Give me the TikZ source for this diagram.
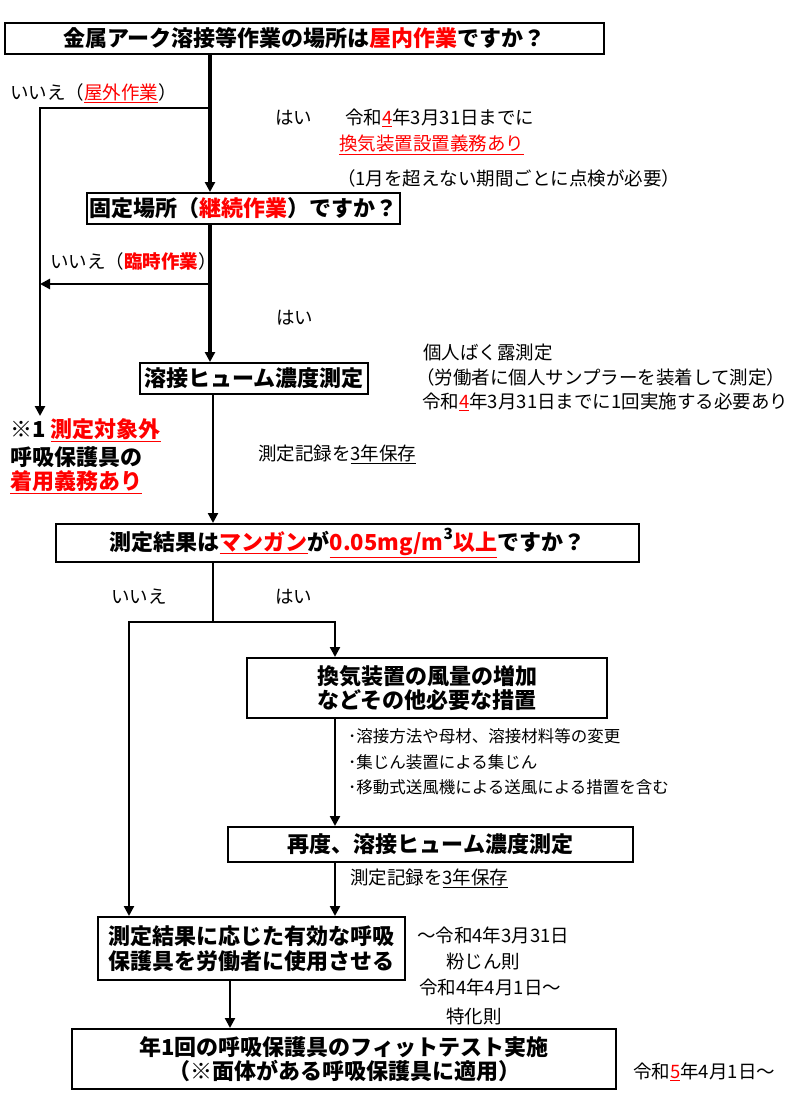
\documentclass[tikz,border=0pt]{standalone}
\usepackage{fontspec}
\setmainfont{Noto Sans CJK JP}
\usetikzlibrary{arrows.meta}
\newcommand\rd[1]{\textcolor{red}{#1}}
\newcommand\ru[1]{\textcolor{red}{\underline{#1}}}
\tikzset{
  box/.style={draw, line width=2pt, inner sep=0pt, align=center,
    font=\bfseries\fontsize{22}{24.5}\selectfont},
  lbl/.style={anchor=west, inner sep=0pt, font=\fontsize{18.5}{22}\selectfont},
  sml/.style={anchor=west, inner sep=0pt, font=\fontsize{16.5}{20}\selectfont},
  notetext/.style={anchor=west, inner sep=0pt, font=\bfseries\fontsize{22}{26}\selectfont},
  thk/.style={line width=3.3pt},
  mid/.style={line width=2.7pt},
  thn/.style={line width=2.3pt},
  tip/.style={-{Triangle[length=10pt,width=10pt]}},
}
\begin{document}
\begin{tikzpicture}[x=1pt,y=-1pt]
\useasboundingbox[fill=white] (0,0) rectangle (805,1111);
% boxes
\node[box, minimum width=599pt, minimum height=31pt] (b1) at (304.5,38.5)
  {金属アーク溶接等作業の場所は\rd{屋内作業}ですか？};
\node[box, minimum width=313pt, minimum height=31pt] (b2) at (243.5,208.5)
  {固定場所（\rd{継続作業}）ですか？};
\node[box, minimum width=228pt, minimum height=31pt] (b3) at (254,378.5)
  {溶接ヒューム濃度測定};
\node[box, minimum width=583pt, minimum height=38pt] (b4) at (347.5,543)
  {測定結果は\ru{マンガン}が\ru{0.05mg/m\raisebox{3pt}{\textcolor{black}{\textsuperscript{3}}}以上}ですか？};
\node[box, minimum width=360pt, minimum height=60pt] (b5) at (427,688)
  {換気装置の風量の増加\\などその他必要な措置};
\node[box, minimum width=405pt, minimum height=35pt] (b5r) at (430.5,844.5)
  {再度、溶接ヒューム濃度測定};
\node[box, minimum width=307pt, minimum height=63pt] (b6) at (251.5,948.5)
  {測定結果に応じた有効な呼吸\\保護具を労働者に使用させる};
\node[box, minimum width=544pt, minimum height=60pt] (b7) at (344,1059)
  {年1回の呼吸保護具のフィットテスト実施\\（※面体がある呼吸保護具に適用）};
% labels
\node[lbl] (t1) at (10,93) {いいえ（\ru{屋外作業}）};
\node[lbl] (t2) at (275,118) {はい};
\node[lbl] (t3) at (345,118) {令和\ru{4}年3月31日までに};
\node[lbl] (t4) at (339,145) {\ru{換気装置設置義務あり}};
\node[lbl] (t5) at (337,178) {（1月を超えない期間ごとに点検が必要）};
\node[lbl] (t6) at (50,261) {いいえ（\textcolor{red}{\bfseries 臨時作業}）};
\node[lbl] (t7) at (276,318) {はい};
\node[lbl] (t8) at (423,353) {個人ばく露測定};
\node[lbl] (t9) at (416,377) {（労働者に個人サンプラーを装着して測定）};
\node[lbl] (t10) at (422,402) {令和\ru{4}年3月31日までに1回実施する必要あり};
\node[notetext] (n1) at (10,430) {※1 \ru{測定対象外}};
\node[notetext] (n2) at (10,457) {呼吸保護具の};
\node[notetext] (n3) at (10,482) {\ru{着用義務あり}};
\node[lbl] (t11) at (258,454) {測定記録を\underline{3年保存}};
\node[lbl] (t12) at (111,597) {いいえ};
\node[lbl] (t13) at (275,597) {はい};
\node[sml] (s1) at (348,736) {･溶接方法や母材、溶接材料等の変更};
\node[sml] (s2) at (348,762) {･集じん装置による集じん};
\node[sml] (s3) at (348,787) {･移動式送風機による送風による措置を含む};
\node[lbl] (t14) at (350,878) {測定記録を\underline{3年保存}};
\node[lbl] (t15) at (417,935) {～令和4年3月31日};
\node[lbl] (t16) at (446,961) {粉じん則};
\node[lbl] (t17) at (419,987) {令和4年4月1日～};
\node[lbl] (t18) at (446,1016) {特化則};
\node[lbl] (t19) at (633,1072) {令和\ru{5}年4月1日～};
% coordinates
\coordinate (xm) at (210,0);
\coordinate (xm2) at (213,0);
\coordinate (xl) at (40,0);
\coordinate (xa) at (129,0);
\coordinate (xb) at (335,0);
\coordinate (xc) at (230,0);
\coordinate (j1) at (210,108);
\coordinate (j2) at (210,284);
\coordinate (e1) at (40,416);
\coordinate (j3) at (213,622);
% connectors
\draw[thk, tip] (b1.south -| xm) -- (b2.north -| xm);
\draw[mid, tip] (j1) -- (j1 -| xl) -- (e1);
\draw[mid, tip] (j2) -- (j2 -| xl);
\draw[thk, tip] (b2.south -| xm) -- (b3.north -| xm);
\draw[thn, tip] (b3.south -| xm2) -- (b4.north -| xm2);
\draw[thn] (b4.south -| xm2) -- (j3);
\draw[thn, tip] (j3) -- (j3 -| xa) -- (b6.north -| xa);
\draw[thn, tip] (j3) -- (j3 -| xb) -- (b5.north -| xb);
\draw[thn, tip] (b5.south -| xb) -- (b5r.north -| xb);
\draw[thn, tip] (b5r.south -| xb) -- (b6.north -| xb);
\draw[thn, tip] (b6.south -| xc) -- (b7.north -| xc);
\end{tikzpicture}
\end{document}
